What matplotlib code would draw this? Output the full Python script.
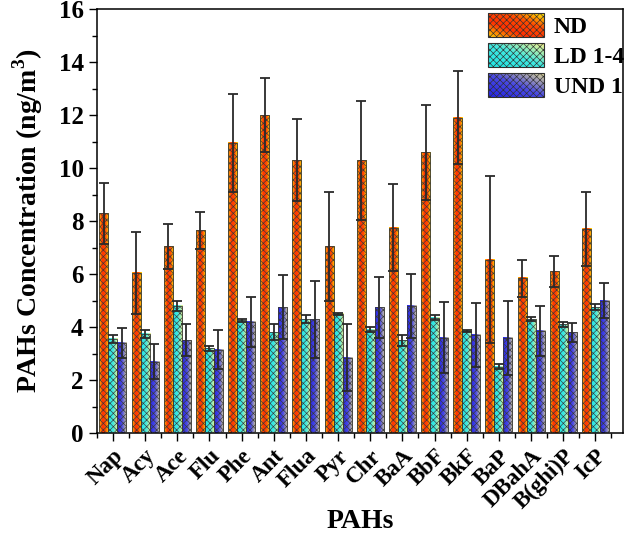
import matplotlib
matplotlib.use("Agg")
import matplotlib.pyplot as plt
import numpy as np
from matplotlib.colors import LinearSegmentedColormap
from matplotlib.legend_handler import HandlerBase
from matplotlib.image import BboxImage
from matplotlib.transforms import Bbox, TransformedBbox
from matplotlib.patches import Rectangle
from matplotlib.ticker import MultipleLocator

""" ******* data read off the figure ******** """
pahs = ['Nap', 'Acy', 'Ace', 'Flu', 'Phe', 'Ant', 'Flua', 'Pyr', 'Chr', 'BaA',
        'BbF', 'BkF', 'BaP', 'DBahA', 'B(ghi)P', 'IcP']

nd = [8.3, 6.05, 7.05, 7.65, 10.95, 12.0, 10.3, 7.05, 10.3, 7.75, 10.6, 11.9, 6.55, 5.85, 6.1, 7.7]
nd_err = [1.15, 1.55, 0.85, 0.7, 1.85, 1.4, 1.55, 2.05, 2.25, 1.65, 1.8, 1.75, 3.15, 0.7, 0.6, 1.4]
ld = [3.55, 3.75, 4.8, 3.2, 4.25, 3.8, 4.3, 4.5, 3.9, 3.5, 4.35, 3.85, 2.5, 4.3, 4.1, 4.75]
ld_err = [0.15, 0.15, 0.2, 0.1, 0.05, 0.3, 0.15, 0.05, 0.1, 0.2, 0.1, 0.05, 0.1, 0.08, 0.1, 0.12]
und = [3.4, 2.7, 3.5, 3.15, 4.2, 4.75, 4.3, 2.85, 4.75, 4.8, 3.6, 3.7, 3.6, 3.85, 3.8, 5.0]
und_err = [0.58, 0.65, 0.6, 0.75, 0.95, 1.2, 1.45, 1.25, 1.15, 1.2, 1.35, 1.2, 1.4, 0.95, 0.35, 0.65]

series_names = ['ND', 'LD 1-4', 'UND 1']

# gradient colours per series (left -> right)
cmaps = [
    LinearSegmentedColormap.from_list('nd', ['#FFC400', '#FF3000', '#FF4A00', '#FFE800']),
    LinearSegmentedColormap.from_list('ld', ['#20E4E4', '#40E8E0', '#F4F08C']),
    LinearSegmentedColormap.from_list('und', ['#2424E6', '#4A4AE4', '#D8D294']),
]

plt.rcParams['font.family'] = 'Liberation Serif'
plt.rcParams['font.weight'] = 'bold'
plt.rcParams['mathtext.fontset'] = 'custom'
plt.rcParams['mathtext.rm'] = 'Liberation Serif:bold'
plt.rcParams['mathtext.bf'] = 'Liberation Serif:bold'
plt.rcParams['hatch.linewidth'] = 0.45

grad = np.linspace(0, 1, 64).reshape(1, -1)


class GradHandler(HandlerBase):
    def __init__(self, cmap):
        super().__init__()
        self.cmap = cmap

    def create_artists(self, legend, orig_handle, xdescent, ydescent,
                       width, height, fontsize, trans):
        bb = Bbox.from_bounds(-xdescent, -ydescent, width, height)
        img = BboxImage(TransformedBbox(bb, trans), cmap=self.cmap,
                        interpolation='bilinear')
        d = np.add.outer(np.linspace(1, 0, 16), np.linspace(0, 1, 32)) / 2
        img.set_data(d)
        rect = Rectangle((-xdescent, -ydescent), width, height, facecolor='none',
                         edgecolor='#303030', hatch='xxxxx', lw=0.8, transform=trans)
        return [img, rect]


fig = plt.figure(figsize=(6.29, 5.38), dpi=100)
ax = fig.add_axes([0.154, 0.195, 0.836, 0.788])

x = np.arange(len(pahs))
w = 0.28
all_vals = [nd, ld, und]
all_err = [nd_err, ld_err, und_err]
handles = []
for k in range(3):
    xs = x + (k - 1) * w
    for xi, v in zip(xs, all_vals[k]):
        ax.imshow(grad, cmap=cmaps[k], aspect='auto', interpolation='bilinear',
                  extent=(xi - w / 2, xi + w / 2, 0, v), zorder=2)
    b = ax.bar(xs, all_vals[k], width=w, facecolor='none', edgecolor='#383838',
               hatch='xxxxx', linewidth=0.6, zorder=3, label=series_names[k])
    handles.append(b)
    ax.errorbar(xs, all_vals[k], yerr=all_err[k], fmt='none', ecolor='#2a2a2a',
                elinewidth=1.3, capsize=3.5, capthick=1.3, zorder=4)

ax.set_xlim(-0.5, 15.85)
ax.set_ylim(0, 16)
ax.set_xticks(x)
ax.set_xticklabels(pahs, rotation=45, ha='right', rotation_mode='anchor',
                   fontsize=16.5, fontweight='bold')
ax.xaxis.set_minor_locator(MultipleLocator(1, offset=0.5))
ax.yaxis.set_major_locator(MultipleLocator(2))
ax.yaxis.set_minor_locator(MultipleLocator(1))
ax.tick_params(axis='both', which='major', direction='out', length=6, width=1)
ax.tick_params(axis='y', which='major', labelsize=18)
ax.tick_params(axis='both', which='minor', direction='out', length=3.5, width=1)
ax.tick_params(axis='x', which='major', pad=3)
for lab in ax.get_yticklabels():
    lab.set_fontweight('bold')
for s in ax.spines.values():
    s.set_linewidth(1.1)

ax.set_ylabel('PAHs Concentration (ng/m$^{3}$)', fontsize=20, fontweight='bold',
              labelpad=10)
ax.set_xlabel('PAHs', fontsize=20, fontweight='bold')
ax.xaxis.set_label_coords(0.5, -0.18)

leg = ax.legend(handles, series_names, loc='upper right', frameon=False,
                bbox_to_anchor=(1.005, 0.993),
                prop={'weight': 'bold', 'size': 17},
                handlelength=2.4, handleheight=1.15, labelspacing=0.22,
                handletextpad=0.4, borderaxespad=0.0, borderpad=0.05,
                handler_map={handles[i]: GradHandler(cmaps[i]) for i in range(3)})

fig.savefig('out.png', dpi=100)
